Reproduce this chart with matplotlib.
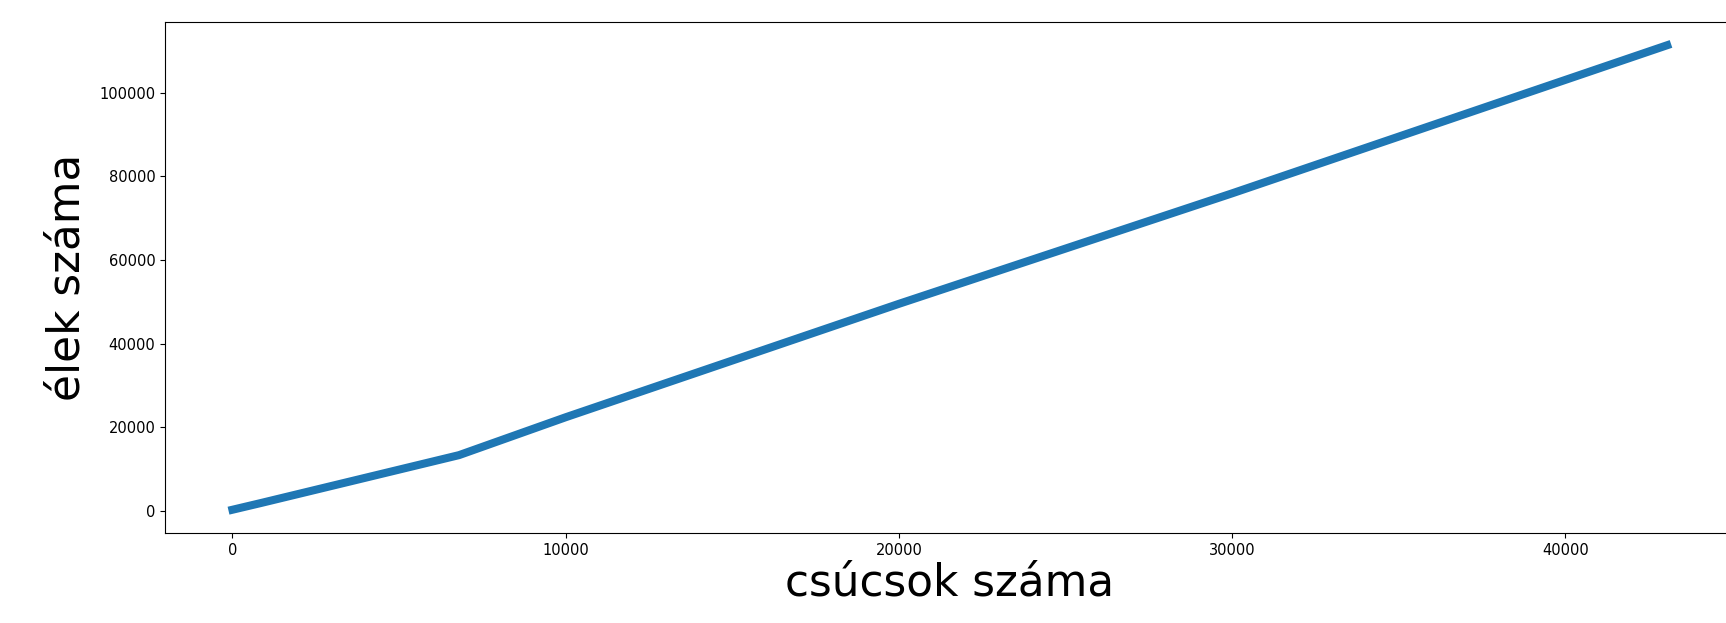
import matplotlib
matplotlib.use("Agg")
import matplotlib.pyplot as plt

# vertex count vs edge count
csucsok = [0, 850, 6800, 10000, 20000, 30000, 43060]
elek = [300, 1900, 13350, 22400, 49500, 75900, 111300]

fig = plt.figure(figsize=(17.26, 6.23), dpi=100)
ax = fig.add_axes([0.0956, 0.1445, 0.9094, 0.8202])

ax.plot(csucsok, elek, linewidth=5.8, color="#1f77b4")
ax.margins(x=0.047)

ax.set_xlabel("csúcsok száma", fontsize=31.5, labelpad=3)
ax.set_ylabel("élek száma", fontsize=31.5, labelpad=8)
ax.tick_params(labelsize=10.5)

fig.savefig("out.png", dpi=100)
